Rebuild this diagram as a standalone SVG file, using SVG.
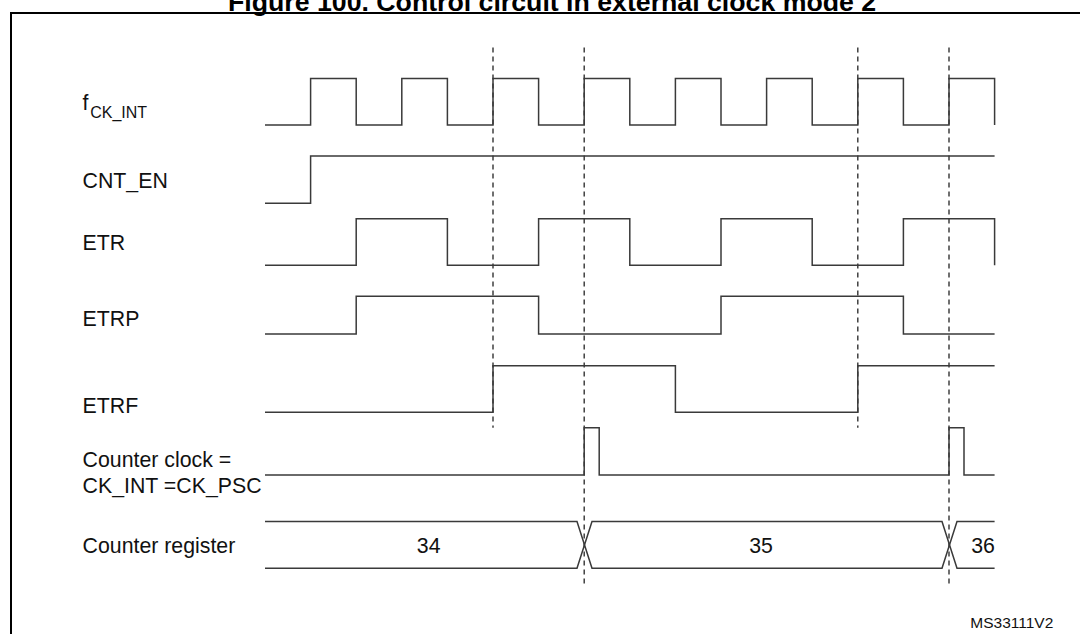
<svg xmlns="http://www.w3.org/2000/svg" width="1080" height="634" viewBox="0 0 1080 634">
  <style>
    .lbl { font-family: "Liberation Sans", Arial, sans-serif; font-size: 21.3px; fill: #111; }
    .sub { font-size: 16px; }
    .title { font-family: "Liberation Sans", Arial, sans-serif; font-size: 26.7px; font-weight: bold; fill: #000; }
    .id { font-family: "Liberation Sans", Arial, sans-serif; font-size: 15.5px; fill: #111; }
    .sig { fill: none; stroke: #3a3a3a; stroke-width: 1.5; }
    .dash { fill: none; stroke: #333; stroke-width: 1.4; stroke-dasharray: 5 4; }
    .frame { fill: none; stroke: #000; stroke-width: 2; }
  </style>
  <rect x="0" y="0" width="1080" height="634" fill="#fff"/>
  <text class="title" x="228" y="10.5">Figure 100. Control circuit in external clock mode 2</text>
  <path class="frame" d="M11,634 V13 H1080"/>

  <g id="guides">
    <line class="dash" x1="493" y1="47.5" x2="493" y2="427.7"/>
    <line class="dash" x1="584.2" y1="47.5" x2="584.2" y2="584.4"/>
    <line class="dash" x1="857.8" y1="47.5" x2="857.8" y2="427.7"/>
    <line class="dash" x1="949" y1="47.5" x2="949" y2="584.4"/>
  </g>

  <g id="fck_int">
    <text class="lbl" x="82.6" y="110.2">f<tspan class="sub" x="90.2" y="118.1">CK_INT</tspan></text>
    <path class="sig" d="M265,125 H310.6 V78.5 H356.2 V125 H401.8 V78.5 H447.4 V125 H493 V78.5 H538.6 V125 H584.2 V78.5 H629.8 V125 H675.4 V78.5 H721 V125 H766.6 V78.5 H812.2 V125 H857.8 V78.5 H903.4 V125 H949 V78.5 H994.6 V125"/>
  </g>

  <g id="cnt_en">
    <text class="lbl" x="82.6" y="188">CNT_EN</text>
    <path class="sig" d="M265,203.2 H310.6 V156 H994.6"/>
  </g>

  <g id="etr">
    <text class="lbl" x="82.6" y="249.7">ETR</text>
    <path class="sig" d="M265,265.2 H356.2 V218.7 H447.4 V265.2 H538.6 V218.7 H629.8 V265.2 H721 V218.7 H812.2 V265.2 H903.4 V218.7 H994.6 V265.2"/>
  </g>

  <g id="etrp">
    <text class="lbl" x="82.6" y="326.2">ETRP</text>
    <path class="sig" d="M265,334.1 H356.2 V296.2 H538.6 V334.1 H721 V296.2 H903.4 V334.1 H994.6"/>
  </g>

  <g id="etrf">
    <text class="lbl" x="82.6" y="412.9">ETRF</text>
    <path class="sig" d="M265,412.2 H493 V365.8 H675.4 V412.2 H857.8 V365.8 H994.6"/>
  </g>

  <g id="counter_clock">
    <text class="lbl" x="82.6" y="467.3">Counter clock =</text>
    <text class="lbl" x="82.6" y="493.2">CK_INT =CK_PSC</text>
    <path class="sig" d="M265,474.9 H584.2 V427.7 H599.2 V474.9 H949 V427.7 H964 V474.9 H994.6"/>
  </g>

  <g id="counter_register">
    <text class="lbl" x="82.6" y="553.4">Counter register</text>
    <path class="sig" d="M265,521.4 H577 L592,568.2 H942 L957,521.4 H994.6"/>
    <path class="sig" d="M265,568.2 H577 L592,521.4 H942 L957,568.2 H994.6"/>
    <text class="lbl" x="428.7" y="553.4" text-anchor="middle">34</text>
    <text class="lbl" x="761" y="553.4" text-anchor="middle">35</text>
    <text class="lbl" x="983" y="553.4" text-anchor="middle">36</text>
  </g>

  <text class="id" x="1053.3" y="628" text-anchor="end">MS33111V2</text>
</svg>
